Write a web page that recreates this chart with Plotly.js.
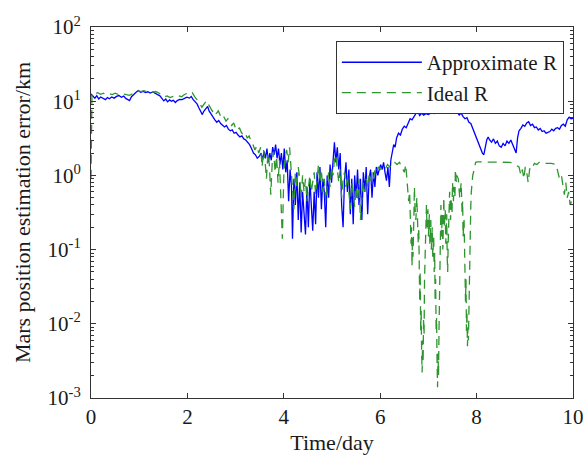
<!DOCTYPE html>
<html>
<head>
<meta charset="utf-8">
<script src="https://cdn.plot.ly/plotly-3.0.1.min.js"></script>
<style>html,body{margin:0;padding:0;background:#fff;}#chart{width:585px;height:459px;}</style>
</head>
<body>
<div id="chart"></div>
<script>
// Approximate R (blue, solid)
const approxDays = [0.00,0.04,0.08,0.12,0.16,0.20,0.25,0.30,0.34,0.38,0.43,0.48,0.53,0.58,0.63,0.68,0.72,0.76,0.80,0.84,0.88,0.93,0.98,1.03,1.08,1.13,1.18,1.23,1.28,1.33,1.38,1.43,1.47,1.51,1.55,1.59,1.63,1.67,1.71,1.75,1.79,1.84,1.89,1.94,1.99,2.04,2.08,2.12,2.16,2.20,2.24,2.28,2.31,2.34,2.38,2.42,2.45,2.49,2.53,2.57,2.61,2.65,2.69,2.73,2.77,2.81,2.85,2.89,2.93,2.97,3.01,3.05,3.09,3.13,3.17,3.21,3.25,3.29,3.33,3.37,3.41,3.45,3.49,3.53,3.56,3.59,3.62,3.65,3.68,3.71,3.74,3.77,3.80,3.83,3.86,3.89,3.92,3.95,3.98,4.01,4.04,4.07,4.10,4.13,4.16,4.18,4.21,4.24,4.27,4.30,4.33,4.36,4.39,4.42,4.45,4.48,4.51,4.54,4.57,4.60,4.63,4.66,4.69,4.72,4.75,4.78,4.81,4.84,4.87,4.90,4.93,4.96,4.99,5.02,5.05,5.08,5.11,5.14,5.17,5.20,5.23,5.26,5.29,5.32,5.35,5.38,5.41,5.44,5.47,5.50,5.53,5.56,5.59,5.62,5.65,5.68,5.71,5.74,5.77,5.80,5.83,5.86,5.89,5.92,5.95,5.98,6.01,6.04,6.07,6.10,6.13,6.16,6.19,6.22,6.25,6.28,6.31,6.34,6.38,6.42,6.46,6.50,6.54,6.58,6.62,6.66,6.70,6.74,6.78,6.82,6.86,6.90,6.95,7.00,7.06,7.12,7.18,7.24,7.30,7.36,7.42,7.48,7.54,7.60,7.64,7.68,7.72,7.76,7.80,7.84,7.88,7.92,7.96,8.00,8.04,8.08,8.12,8.15,8.18,8.21,8.24,8.27,8.31,8.35,8.39,8.43,8.47,8.51,8.55,8.59,8.63,8.67,8.71,8.75,8.79,8.82,8.85,8.88,8.92,8.96,9.00,9.04,9.08,9.12,9.16,9.20,9.24,9.28,9.32,9.36,9.40,9.44,9.48,9.52,9.56,9.60,9.64,9.68,9.72,9.76,9.80,9.84,9.88,9.92,9.96,10.00];
const approxErr = [12.5,11.6,11.0,11.9,10.7,11.4,10.9,10.5,11.2,10.8,11.4,11.0,11.6,11.9,11.3,11.7,10.9,10.4,10.2,11.5,12.3,13.1,13.9,13.2,13.6,13.1,13.4,12.9,13.3,12.7,12.4,11.8,10.9,10.1,10.7,9.8,10.4,10.0,10.3,9.6,10.2,10.6,10.5,10.9,11.3,11.0,11.6,10.5,9.9,9.2,8.1,7.2,6.6,7.3,7.9,8.5,7.4,6.7,6.0,5.6,5.2,5.5,5.0,4.8,4.5,4.7,4.2,4.0,4.1,3.7,3.8,3.5,3.3,3.4,3.1,3.0,2.8,2.6,2.3,2.0,1.9,1.7,1.8,2.0,1.6,2.1,1.7,2.3,1.5,2.0,1.6,2.4,1.9,2.6,1.7,2.3,1.4,2.0,1.2,2.3,1.1,1.6,0.45,1.2,0.7,0.14,0.9,0.4,1.1,0.25,0.8,0.17,0.6,0.3,0.16,0.7,0.2,0.9,0.45,0.18,0.6,0.22,1.1,0.5,1.3,0.35,0.9,0.6,0.2,1.0,0.5,1.4,0.8,1.8,2.8,1.5,2.4,1.2,2.0,0.4,0.2,0.9,1.5,0.6,1.2,0.3,0.9,0.22,1.0,0.5,1.2,0.4,0.9,0.25,1.1,0.6,1.3,0.3,0.9,1.2,0.5,1.1,0.7,1.3,1.0,1.2,1.4,1.2,1.5,1.1,0.85,1.3,0.7,1.6,2.2,2.6,2.4,3.2,3.7,3.5,4.2,4.6,4.4,5.2,5.8,5.6,6.3,6.8,7.2,6.4,6.9,6.5,6.8,6.6,7.0,6.8,7.2,6.9,7.3,7.1,7.4,7.2,7.3,7.0,6.5,6.9,6.2,5.8,6.0,5.2,5.0,4.3,3.6,3.2,2.7,2.3,2.0,1.9,2.4,3.0,3.3,3.0,2.8,3.1,2.7,2.9,2.5,2.4,2.7,2.5,2.9,2.7,3.0,2.6,2.2,2.0,3.2,4.0,4.3,4.8,4.6,5.1,5.3,4.7,4.9,4.4,4.5,4.1,4.3,3.9,4.0,3.7,3.8,3.9,4.2,4.0,4.3,4.4,4.2,4.7,4.9,4.6,5.6,6.1,5.8,5.9];

// Ideal R (green, dashed)
const idealDays = [0.00,0.02,0.08,0.14,0.20,0.26,0.32,0.38,0.44,0.50,0.56,0.62,0.68,0.74,0.80,0.86,0.92,0.98,1.04,1.10,1.16,1.22,1.28,1.34,1.40,1.46,1.52,1.58,1.64,1.70,1.76,1.82,1.88,1.94,2.00,2.05,2.10,2.15,2.20,2.25,2.30,2.35,2.40,2.44,2.48,2.52,2.56,2.60,2.64,2.68,2.72,2.76,2.80,2.84,2.88,2.92,2.96,3.00,3.04,3.08,3.12,3.16,3.20,3.24,3.28,3.32,3.36,3.40,3.44,3.48,3.52,3.55,3.58,3.61,3.64,3.67,3.70,3.73,3.76,3.79,3.82,3.85,3.88,3.91,3.94,3.97,4.00,4.03,4.06,4.09,4.12,4.15,4.18,4.21,4.24,4.27,4.30,4.33,4.36,4.39,4.42,4.45,4.48,4.51,4.54,4.57,4.60,4.63,4.66,4.69,4.72,4.75,4.78,4.81,4.84,4.87,4.90,4.93,4.96,4.99,5.02,5.05,5.08,5.11,5.14,5.17,5.20,5.23,5.26,5.29,5.32,5.35,5.38,5.41,5.44,5.47,5.50,5.53,5.56,5.59,5.62,5.65,5.68,5.71,5.74,5.77,5.80,5.83,5.86,5.89,5.92,5.96,6.00,6.05,6.10,6.15,6.20,6.25,6.30,6.35,6.40,6.45,6.50,6.53,6.56,6.59,6.61,6.62,6.63,6.64,6.65,6.66,6.67,6.68,6.70,6.71,6.72,6.74,6.76,6.77,6.79,6.80,6.81,6.82,6.83,6.84,6.85,6.86,6.87,6.88,6.89,6.90,6.91,6.92,6.94,6.96,6.97,6.99,7.00,7.02,7.03,7.05,7.06,7.08,7.09,7.11,7.12,7.13,7.14,7.15,7.16,7.17,7.18,7.19,7.20,7.21,7.22,7.24,7.26,7.27,7.29,7.30,7.32,7.33,7.35,7.36,7.38,7.39,7.40,7.41,7.43,7.44,7.46,7.47,7.49,7.50,7.52,7.53,7.55,7.56,7.58,7.59,7.62,7.65,7.68,7.70,7.71,7.72,7.74,7.75,7.76,7.77,7.78,7.79,7.80,7.81,7.82,7.83,7.84,7.85,7.86,7.88,7.89,7.92,7.95,7.98,8.02,8.10,8.30,8.50,8.70,8.88,8.92,8.95,8.98,9.01,9.04,9.07,9.10,9.13,9.16,9.20,9.25,9.30,9.35,9.45,9.55,9.65,9.72,9.76,9.79,9.82,9.85,9.88,9.91,9.94,9.97,10.00];
const idealErr = [0.9,12.8,12.5,13.0,12.4,12.8,12.2,12.6,12.3,12.8,12.4,12.9,12.5,12.2,12.0,12.6,13.2,13.8,13.5,13.9,13.4,13.7,13.2,13.5,13.0,12.1,11.4,11.8,11.2,11.6,11.3,11.8,11.5,12.3,12.8,12.4,13.0,11.5,10.6,9.5,8.3,9.2,10.2,9.0,8.0,7.3,7.8,6.8,7.4,6.5,6.9,6.0,5.4,5.8,5.0,4.7,5.1,4.3,4.0,4.4,3.8,3.5,3.7,3.2,3.4,2.9,2.6,2.2,2.5,2.0,2.4,1.3,2.2,1.6,0.9,2.0,1.4,0.55,1.5,2.1,1.1,1.8,0.8,1.6,0.4,0.14,1.0,1.8,2.2,1.5,2.4,1.2,0.8,0.35,1.1,0.7,1.3,0.9,0.5,1.0,0.6,0.9,0.45,0.7,1.0,0.6,0.8,1.1,0.55,0.9,1.4,0.8,1.2,0.6,0.9,0.45,0.8,1.1,0.7,1.3,1.0,1.6,1.9,1.3,0.8,1.2,0.5,0.9,1.1,0.7,1.0,0.6,0.35,0.8,0.5,0.38,0.7,0.45,0.9,0.25,0.5,0.8,0.6,0.9,0.7,1.0,0.8,1.1,0.9,1.2,1.1,1.3,1.2,1.3,1.2,1.4,1.3,1.5,1.5,1.4,1.5,1.3,1.1,1.4,0.8,0.45,0.6,0.25,0.4,0.12,0.2,0.06,0.15,0.08,0.3,0.7,0.4,0.25,0.5,0.3,0.12,0.2,0.06,0.02,0.05,0.008,0.015,0.004,0.0022,0.006,0.003,0.012,0.007,0.04,0.15,0.4,0.2,0.35,0.15,0.3,0.12,0.25,0.1,0.2,0.08,0.15,0.05,0.09,0.02,0.04,0.008,0.012,0.003,0.0014,0.004,0.002,0.008,0.05,0.4,0.15,0.3,0.1,0.5,0.2,0.35,0.12,0.3,0.08,0.05,0.12,0.3,0.6,0.25,0.5,0.3,0.8,0.45,0.7,0.5,1.2,0.8,1.0,0.9,0.5,0.8,0.3,0.45,0.15,0.25,0.06,0.1,0.02,0.04,0.008,0.015,0.005,0.009,0.006,0.02,0.05,0.15,0.4,0.6,1.0,1.2,1.5,1.52,1.52,1.52,1.52,1.5,1.3,1.0,1.2,0.9,1.3,1.1,0.8,1.2,1.35,1.3,1.45,1.4,1.5,1.5,1.45,1.45,1.4,0.9,1.0,0.7,0.55,0.8,0.5,0.6,0.4,0.45];

const xTicks = [0, 2, 4, 6, 8, 10];
const yTickVals = [0.001, 0.01, 0.1, 1, 10, 100];
const yTickText = ['10<sup>-3</sup>', '10<sup>-2</sup>', '10<sup>-1</sup>', '10<sup>0</sup>', '10<sup>1</sup>', '10<sup>2</sup>'];

const FONT = '"Liberation Serif", "Times New Roman", Times, serif';
const AX = '#333333';
const TXT = '#1a1a1a';

const traces = [
  {
    x: approxDays, y: approxErr, type: 'scatter', mode: 'lines',
    name: 'Approximate R',
    line: {color: '#0000ff', width: 1.3}
  },
  {
    x: idealDays, y: idealErr, type: 'scatter', mode: 'lines',
    name: 'Ideal R',
    line: {color: '#2e962e', width: 1.3, dash: '9px,6px'}
  }
];

const layout = {
  width: 585, height: 459,
  margin: {l: 91, r: 12, t: 27, b: 61},
  paper_bgcolor: '#ffffff', plot_bgcolor: '#ffffff',
  font: {family: FONT, size: 22, color: TXT},
  showlegend: true,
  xaxis: {
    range: [0, 10], tickvals: xTicks, ticktext: xTicks.map(String),
    ticks: 'inside', ticklen: 5, tickcolor: AX, tickwidth: 1,
    showline: true, linecolor: AX, linewidth: 1, mirror: 'ticks',
    showgrid: false, zeroline: false,
    tickfont: {family: FONT, size: 21, color: TXT},
    title: {text: 'Time/day', font: {family: FONT, size: 22, color: TXT}, standoff: 6}
  },
  yaxis: {
    type: 'log', range: [-3, 2],
    tickvals: yTickVals, ticktext: yTickText,
    ticks: 'inside', ticklen: 5, tickcolor: AX, tickwidth: 1,
    minor: {ticks: 'inside', ticklen: 3, tickcolor: AX, dtick: 'D1', showgrid: false},
    showline: true, linecolor: AX, linewidth: 1, mirror: 'ticks',
    showgrid: false, zeroline: false,
    ticklabelstandoff: 5,
    tickfont: {family: FONT, size: 21, color: TXT},
    title: {text: 'Mars position estimation error/km', font: {family: FONT, size: 22, color: TXT}, standoff: 10}
  },
  legend: {
    x: 0.981, y: 0.962, xanchor: 'right', yanchor: 'top',
    bgcolor: '#ffffff', bordercolor: '#333333', borderwidth: 1,
    font: {family: FONT, size: 21, color: TXT},
    itemwidth: 80
  }
};

Plotly.newPlot('chart', traces, layout, {displayModeBar: false, staticPlot: true});
</script>
</body>
</html>
